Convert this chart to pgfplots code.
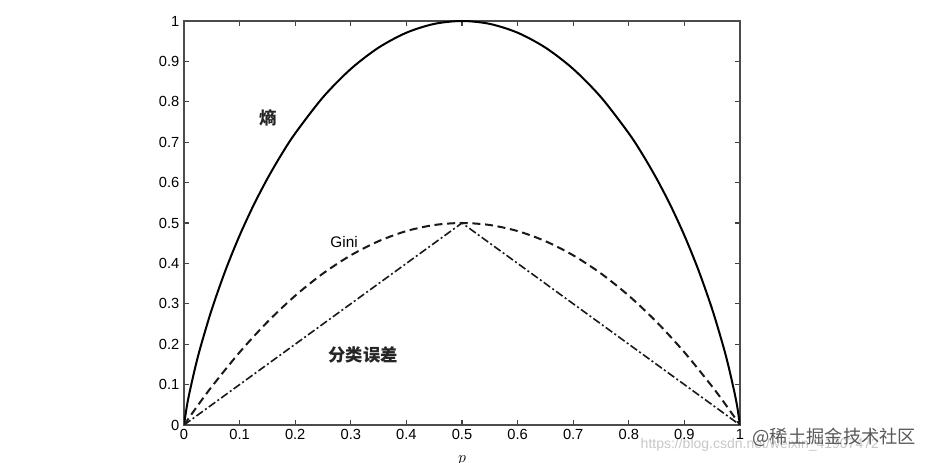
\documentclass[border=0pt]{standalone}
\usepackage{fontspec}
\setmainfont{Liberation Sans}
\newfontfamily\cjk{Noto Sans CJK SC}
\usepackage{pgfplots}
\pgfplotsset{compat=1.18}

% entropy, gini and misclassification error vs p
\pgfplotstableread{
p      H
0      0
0.005  0.0454
0.01   0.0808
0.02   0.1414
0.03   0.1944
0.05   0.2864
0.075  0.3843
0.1    0.4690
0.125  0.5436
0.15   0.6098
0.175  0.6690
0.2    0.7219
0.25   0.8113
0.3    0.8813
0.35   0.9341
0.4    0.9710
0.45   0.9928
0.5    1.0000
0.55   0.9928
0.6    0.9710
0.65   0.9341
0.7    0.8813
0.75   0.8113
0.8    0.7219
0.825  0.6690
0.85   0.6098
0.875  0.5436
0.9    0.4690
0.925  0.3843
0.95   0.2864
0.97   0.1944
0.98   0.1414
0.99   0.0808
0.995  0.0454
1      0
}\entropy

\pgfplotstableread{
p     G
0     0
0.025 0.04875
0.05  0.095
0.1   0.18
0.15  0.255
0.2   0.32
0.25  0.375
0.3   0.42
0.35  0.455
0.4   0.48
0.45  0.495
0.5   0.5
0.55  0.495
0.6   0.48
0.65  0.455
0.7   0.42
0.75  0.375
0.8   0.32
0.85  0.255
0.9   0.18
0.95  0.095
0.975 0.04875
1     0
}\gini

\begin{document}
\begin{tikzpicture}[x=0.75pt,y=0.75pt]
\useasboundingbox (0,0) rectangle (925,463);
% watermark
\node[anchor=west, text=black!22, font=\fontsize{10.5}{12}\selectfont] at (636,18) {https://blog.csdn.net/weixin\_41907472};
\begin{axis}[
    at={(138pt,28.5pt)}, anchor=south west,
    scale only axis, width=417pt, height=303pt,
    xmin=0, xmax=1, ymin=0, ymax=1,
    xtick={0,0.1,0.2,0.3,0.4,0.5,0.6,0.7,0.8,0.9,1},
    ytick={0,0.1,0.2,0.3,0.4,0.5,0.6,0.7,0.8,0.9,1},
    tick align=inside, major tick length=3.75pt,
    tick style={black!75, line width=0.8pt},
    axis line style={black!70, line width=1pt},
    ticklabel style={font=\fontsize{11}{12}\selectfont, text=black},
    /pgf/number format/assume math mode=true,
    xlabel={$p$}, xlabel style={at={(axis description cs:0.5,0)}, anchor=center, yshift=-26.5pt, font=\large},
]
\addplot[black, line width=1.5pt, smooth] table[x=p, y=H] {\entropy};
\addplot[black!90, line width=1.5pt, smooth, dash pattern=on 6pt off 3.5pt] table[x=p, y=G] {\gini};
\addplot[black!90, line width=1.2pt, dash pattern=on 6pt off 2pt on 1.5pt off 2pt] coordinates {(0,0) (0.5,0.5) (1,0)};
\node[font=\cjk\fontsize{13}{14}\selectfont\bfseries, text=black!85] at (axis cs:0.151,0.76) {熵};
\node[font=\fontsize{11.5}{12}\selectfont] at (axis cs:0.288,0.452) {Gini};
\node[font=\cjk\fontsize{13}{14}\selectfont\bfseries, text=black!85] at (axis cs:0.322,0.173) {分类误差};
\end{axis}
\node[anchor=west, text=black!65, font=\cjk\fontsize{13.7}{15}\selectfont] at (748,26) {@稀土掘金技术社区};
\end{tikzpicture}
\end{document}
